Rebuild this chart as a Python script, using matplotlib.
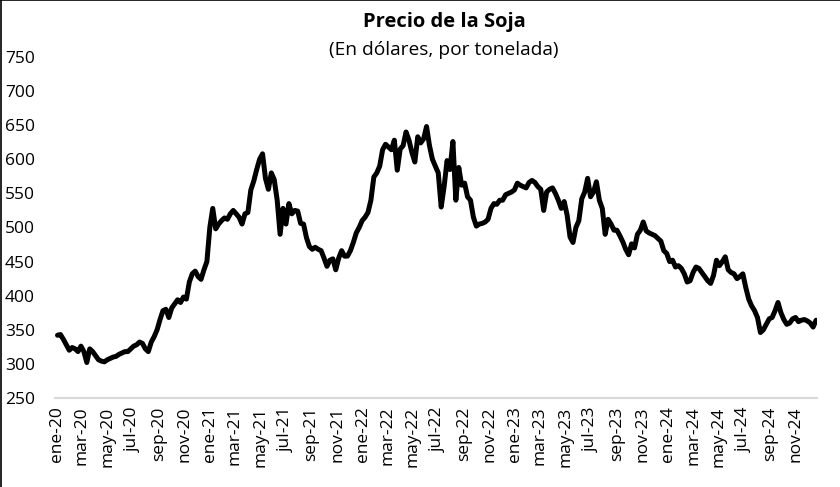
import matplotlib
matplotlib.use('Agg')
import matplotlib.pyplot as plt
import pandas as pd

# precios semanales (USD/tonelada)
precios_2020 = [342, 343, 336, 328, 320, 324, 322, 318, 326, 318, 302, 322, 318, 312, 306, 304,
                303, 306, 308, 310, 311, 314, 316, 318, 318, 322, 326, 328, 332, 330, 322, 318,
                332, 340, 350, 365, 378, 380, 368, 382, 388, 394, 390, 398, 395, 420, 432, 436,
                428, 424, 438, 450]
precios_2021 = [500, 528, 498, 505, 510, 514, 512, 520, 525, 520, 515, 505, 520, 522, 555, 568,
                585, 600, 608, 572, 556, 580, 570, 540, 490, 528, 505, 535, 520, 525, 524, 506,
                505, 485, 472, 468, 471, 468, 466, 455, 443, 452, 454, 438, 455, 466, 458, 458,
                466, 478, 492, 500]
precios_2022 = [510, 515, 522, 540, 574, 580, 590, 614, 622, 618, 614, 628, 584, 615, 620, 640,
                628, 610, 596, 633, 624, 630, 648, 620, 600, 590, 580, 530, 560, 598, 585, 626,
                540, 588, 562, 565, 545, 540, 515, 502, 505, 506, 508, 512, 528, 535, 534, 540,
                540, 548, 550, 552]
precios_2023 = [555, 565, 562, 560, 558, 566, 569, 566, 560, 556, 525, 552, 556, 558, 550, 540,
                528, 538, 518, 486, 478, 500, 510, 542, 552, 572, 545, 552, 567, 540, 528, 490,
                512, 505, 496, 496, 488, 479, 468, 460, 476, 470, 490, 496, 508, 495, 492, 490,
                488, 484, 480, 466]
precios_2024 = [462, 450, 452, 442, 444, 440, 432, 420, 422, 434, 442, 440, 434, 428, 422, 418,
                430, 452, 444, 450, 457, 438, 434, 432, 425, 428, 432, 412, 395, 385, 378, 368,
                346, 350, 358, 366, 368, 378, 390, 375, 365, 358, 360, 366, 368, 362, 364, 365,
                363, 360, 354, 364]

precios = precios_2020 + precios_2021 + precios_2022 + precios_2023 + precios_2024
fechas = pd.date_range('2020-01-03', periods=len(precios), freq='7D')

meses = ['ene', 'feb', 'mar', 'abr', 'may', 'jun', 'jul', 'ago', 'sep', 'oct', 'nov', 'dic']
ticks = pd.date_range('2020-01-01', '2024-11-01', freq='2MS')
etiquetas = [f"{meses[t.month - 1]}-{t.year % 100:02d}" for t in ticks]

plt.rcParams['font.family'] = ['Open Sans', 'DejaVu Sans']

fig = plt.figure(figsize=(8.4, 4.87), dpi=100)
ax = fig.add_axes([0.0655, 0.1828, 0.907, 0.7002])

ax.plot(fechas, precios, color='black', linewidth=3.6, solid_joinstyle='round', solid_capstyle='round')

ax.set_ylim(250, 750)
ax.set_yticks(range(250, 751, 50))
ax.set_xlim(pd.Timestamp('2019-12-28'), pd.Timestamp('2024-12-22'))
ax.set_xticks(ticks)
ax.set_xticklabels(etiquetas, rotation=90)

ax.tick_params(axis='y', length=0, pad=36, labelsize=12.5)
ax.tick_params(axis='x', length=0, pad=6, labelsize=12.5)
for lab in ax.get_yticklabels():
    lab.set_horizontalalignment('left')

for s in ['top', 'right', 'left']:
    ax.spines[s].set_visible(False)
ax.spines['bottom'].set_color('#d9d9d9')
ax.spines['bottom'].set_linewidth(1.5)

fig.text(0.529, 0.954, 'Precio de la Soja', ha='center', va='center', fontsize=14.5, fontweight='bold')
fig.text(0.528, 0.898, '(En dólares, por tonelada)', ha='center', va='center', fontsize=13.8)

# borde del grafico (izquierda y arriba)
fig.add_artist(plt.Line2D([0.001, 0.001], [0, 1], color='black', linewidth=1.2, transform=fig.transFigure))
fig.add_artist(plt.Line2D([0, 1], [0.999, 0.999], color='black', linewidth=1.2, transform=fig.transFigure))

fig.savefig('out.png', dpi=100)
